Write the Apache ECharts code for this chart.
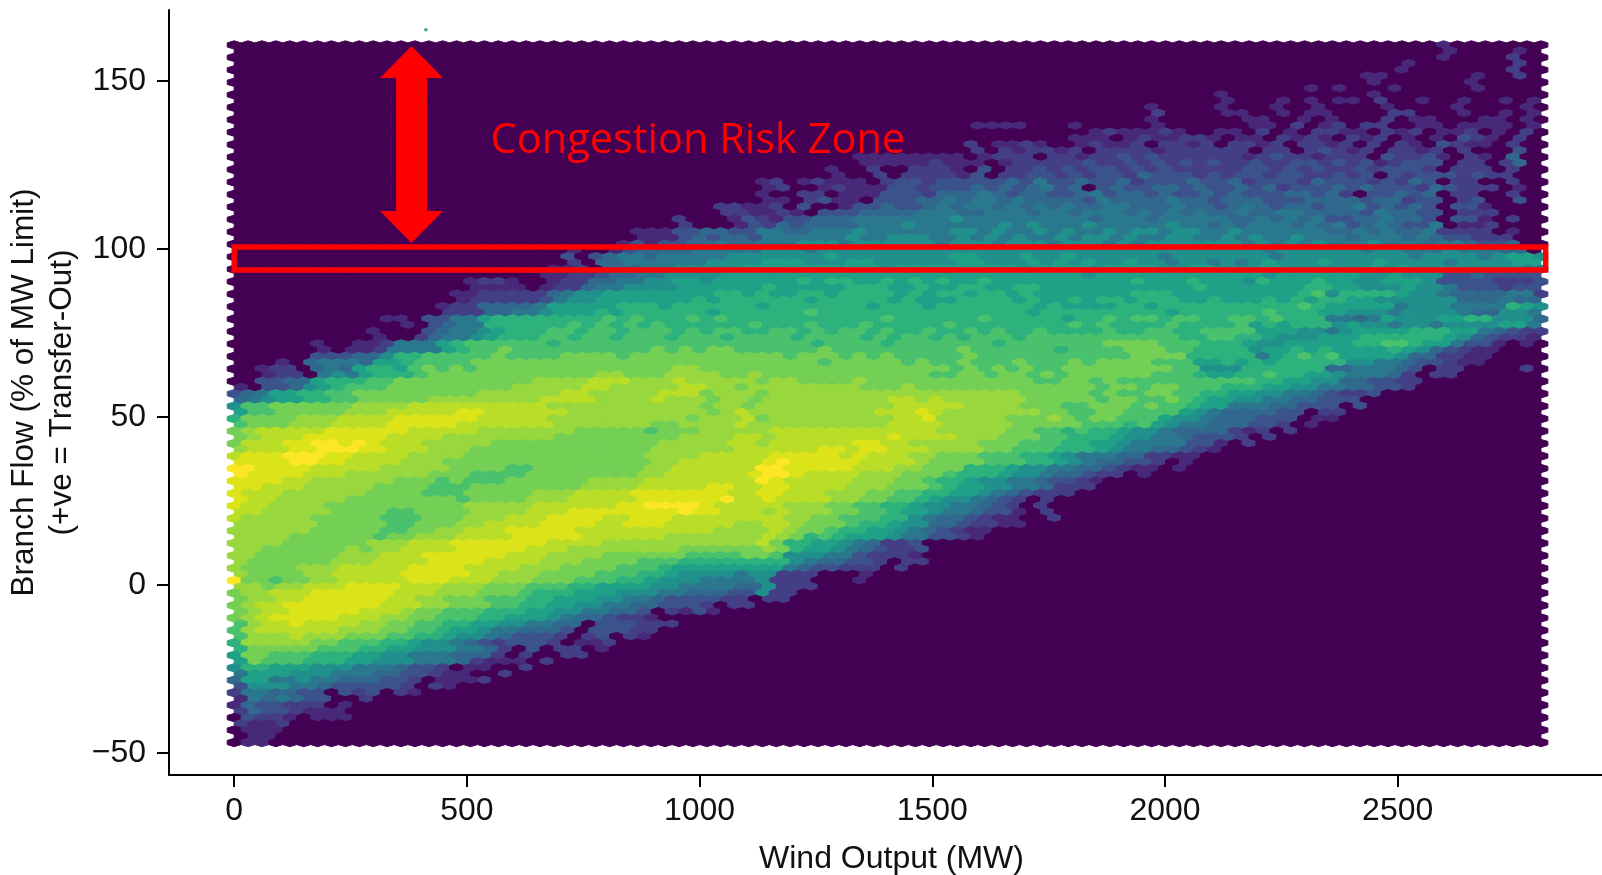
<!DOCTYPE html>
<html><head><meta charset="utf-8">
<style>html,body{margin:0;padding:0;background:#fff}#c{width:1602px;height:875px}#c canvas{filter:blur(0.7px)}</style>
<script src="https://cdn.jsdelivr.net/npm/echarts@6/dist/echarts.min.js"></script>
</head><body><div id="c"></div>
<script>
const xTicks = [0, 500, 1000, 1500, 2000, 2500];
const yTicks = [-50, 0, 50, 100, 150];
const viridis = ['#440154','#471365','#482878','#433e85','#3b528b','#31688e','#2a788e','#21908c','#1fa187','#2db27d','#4ac16d','#74d055','#98d83e','#bade28','#dce319','#fde725'];
// Hexbin density level per cell (hex digit, '.' = empty), one string per hexagon row, top to bottom.
const densityRows = [
".......... .......... .......... .......... .......... .......... .......... .......... .......2..",
".......... .......... .......... .......... .......... .......... .......... .......... .......2.. ..2",
".......... .......... .......... .......... .......... .......... .......... .......... .......2.. ..3",
".......... .......... .......... .......... .......... .......... .......... .......... ....2..... ..3",
".......... .......... .......... .......... .......... .......... .......... .......... ....2..... ..3",
".......... .......... .......... .......... .......... .......... .......... .......... .22......2 ..3",
".......... .......... .......... .......... .......... .......... .......... .......... ..2......2",
".......... .......... .......... .......... .......... .......... .......... .......2.2 ...2.....2",
".......... .......... .......... .......... .......... .......... .......... .2........ ..2.......",
".......... .......... .......... .......... .......... .......... .......... .2...2.2.2 2.3..2..2. .2.2",
".......... .......... .......... .......... .......... .......... ......2... .2...2..2. ...2....2. ...2",
".......... .......... .......... .......... .......... .......... ......3... .22..2.22. ...33...2. .2.2",
".......... .......... .......... .......... .......... .......... ......2... ...22..2.2 ...3.22... 22.2",
".......... .......... .......... .......... .......... ...2222... 2.....2... ...22.3.23 .33..22.22 22.2",
".......... .......... .......... .......... .......... .......... ..2322232. .22.3.2.33 22.323.223 .2.3",
".......... .......... .......... .......... .......... .......... 222.232233 2.22.3232. 323.2.2.43 2.3.",
".......... .......... .......... .......... .......... ...3.2232. .23223.332 3.3323.332 3.3.32.432 2.3..",
".......... .......... .......... .......... .......... ...3.32332 3.33332333 333.33.343 23.3323.3. ..4..",
".......... .......... .......... .......... .....22222 222.2333.3 3233434333 3332343323 33.43342.3 2.5..",
".......... .......... .......... .......... .....22222 3222.23333 3433434343 4334334434 3423444.33 .35",
".......... .......... .......... .......... ...2..3..3 332.4.3343 4344343433 3334434343 3434443.33 3.3",
".......... .......... .......... .......... ...2..3.33 3324.33443 4344354443 4344344334 34.4344434 33.",
".......... .......... .......... ........23 .23222.344 3444445464 4544534445 4453444354 4434354.33 ..3",
".......... .......... .......... ........23 ..23222443 4445454564 5.45445545 4454534445 4544435433 3.2",
".......... .......... .......... ........2. .33.222444 3555654554 4564554544 5454445545 3.44545.33 ..3",
".......... .......... .......... ........22 .3422.4445 5656656555 5465555655 4555444555 5455344.34 ..4",
".......... .......... .......... .....33223 .4..244544 5656656565 6556655565 5456545545 5645454.44 2..",
".......... .......... .......... .....33223 2.44455556 6655666566 5666565656 5565566555 5465544.33 3..",
".......... .......... .......... ..3...2432 4455566666 6676666666 6656665666 6655656564 4556554.44 2.3",
".......... .......... .......... ..3...2435 4555566676 6666676766 6766666766 5656665656 4565446.22 3.",
".......... .......... .........2 2244554466 5566676666 6677676676 7667677677 6676666665 5656556333 3.2",
".......... .......... .........2 2245455466 6666766777 6676767667 6776766776 6767667666 5666565443 33.",
".......... .......... ........24 2445565566 6777677777 7677767776 7776767777 7776767676 6676665665 445",
".......... .......... ....2..245 5556666677 7677777777 7777777777 7777777777 7777677777 7677666766 655",
".......... .......... ....4.4566 5666667777 7778777777 7788777877 8777777677 7777767777 7777767777 67887",
".......... .......... ....3.5566 6666777788 8777887777 7788777878 7877877677 6767877787 7787777677 77887",
".......... .......... ...223.555 6677777888 8888888788 8888888788 8878888778 8777887777 7787877777 77766",
".......... .......... ..22334556 6777788888 8888888888 8888888888 8788888888 8888788888 8778777445 44444",
".......... .......233 2..2335566 7788788888 8989988989 8988988888 8888898889 8887988898 8778887444 43334",
".......... .......222 2.23356677 7788888898 8888999889 8899889988 8888888889 8888888998 8777877644 4344.",
".......... ......2233 3335677888 8888899898 8998999989 8998998988 8888899988 88888889a7 9999877655 55663",
".......... ......2333 3346778888 8889899999 9899999898 8899998988 9899899988 9888989899 8877777755 5655.",
".......... .....23355 5568888899 9899999989 9999998999 8999999989 8888998999 9999999a98 8888677766 66987",
".......... .....33355 6678889899 9999899999 9a99999999 9999999899 9999999899 9999a99988 7776777765 57764",
".......... .22.446689 9999999a9a 999a9a9999 9999999a99 9999a99999 899a9aa9aa 99aa9a9996 6568777889 97775",
".......... ..2.456699 9999a9a9a9 a999999a99 9a999a9999 9a99999999 a9a9999a99 99a8989997 8776776777 78864",
".......... 2...456678 999aa9aa9a aa9a9aa99a a9a9aa9a99 a99a9a99a9 999a99aa99 aaaa888776 7888899988 65433",
".......... 2..3566789 99aa9aa9aa a9aaa9aaaa 9aaaa9a9aa 9a9aaa9aaa aaaaaaaa99 aa99877788 8999999875 43322",
"......2..2 2366689aaa aaa9aaaaaa aaaaaaaaaa aa9aaaa9aa aaaaa9aaaa aaabbbbaaa 9998778888 899aa98864 42.2.",
"......2.22 3666689aab aaaaaaaaaa bababbaaaa aabaaaaaaa aabaaaaaa9 aaaabbbaa9 9997889898 8889875432 2",
"......4445 5799aaaaab aaaabbbbab bbbbbbbbbb abbbababaa aaabaaaaaa aaaaabbbb9 9999689a9a 8888755332 2....",
"...2.56665 889aaaabbb bbbbbbbbbb bbbbbbbbbb bbabbbbbab aabaaabaaa babbbbaaa8 8989899999 7766544322",
"..233.5658 998abababb bbbbbbbbbb bbccbbbbbb bbbbbbbbbb bbabababaa bbbbbbbbaa 7779999995 566654.33. ...3.",
"..233.6768 999abbbbbb bbbbbbccbb bccccbbcbb bbbbbbbbbb aabbabbaba bbbbbbaaa9 8899a99887 66653.33",
"..44558999 aabbbbbbbb bbccccdddc ccdcccccbc cbbbbcbbbb bbbbbbbbaa bbabaaaaaa aaaa998877 554433",
"2.445789aa abbbbbbbbb cccccddccc ccddccbccc cccccbbbcb bbbbbbbbbb bbabbabbaa a999887766 55443",
"4568899aab bbbbbbbbcc ccccddcccc cdddbcccbc cccccccccc cccccccbbb bbabaabbaa 9988776654 334",
"5678899aab bbbbcccccc ccddddcccc dcccbccbcc cccccccddc dccccccbbb bbabbaaba9 8877665544 4",
"7aabbbbbbc cccddddddd dddccccccc ccccbccbcc ccccccccdd dddccccbbb aabbbabaa9 8866655444 .4",
"8aabbbbbcc cdddddeedd ddddcccccc ccccbcdccc ccccccddde dcccccccbb aabbaaaa87 6555544.33",
"9bbbbcccdd ddeeeeeedd dddccccccc cccbcccdbc ccccccccdd ecccccbbbc babbaaa877 6555444.22",
"abbbcccddd deeeeedddd dddccccccc bbccccdccc cccccccddd dcccccbbbb baaa9a8766 555443.2",
"bcdddddeee eeedddddcc cccccbbbbb abbbcccccd dddddddddd dcccccbbaa 9a99877655 55323.3",
"bcdddeeeee eddddccccc cccbbbbbbb bbccccddcd dddddddedd ddcccbbbaa 9998776654 443.3",
"bdddeeffef edddcccccb bbbbbbbbbb bcccccddcd dddddeeddc ccccbbbaaa 9988766664 42.3",
"cdddeefffe edddcccbbb bbbbbbbbbb ccccccdddd ddeedeeddd ccccbbaaa9 9987665543 2",
"deeefffeed dddccccbbb bbbbbbbbbb ccccddddde eeeededddc cbbbaaa998 7666553322",
"eeeeffeedd ddcccbbbbb bbbbbbbbbb ccddddddef eeeeeddddc bbbbaaa998 7655443.2.",
"ffeeeedddd dcccccbbbb aabbbbbbbb ccddddddff eeeeedddcc bbb9998776 6554322.2.",
"feeeedddcc ccccbbbaaa abbbbbbbbc cddddddeff eddddcccbb ba99987765 5433.2",
"eeeeddcccc ccbbbabaaa bbbbbbcccc ddddddddfe dddddcccbb a998776654 432",
"eedddccccc bbbbaaabbb bbbbbccccd ddddeeddee ddddcccbbb a988776653 33",
"edddcccccc bbbbaaabbb bbcccdddde eeeeeeddee dddcccbbaa 9988765433 3",
"eddcccccbb bbbbbbabbb bcccddddde eeeeefdded dddccbbaa9 8776543.3.",
"eddccccbbb bbbbbbbccc ccddddddee ffffeddddd cccbbaa998 7766543.3.",
"ddcccccbbb baabbbbccc cdddeeeeee eefeedddcd cccbbaa988 7665442.3.",
"dcccccbbbb baaabbbccc dddeeeedde eedddddddd ccbbaaa997 6554322..3",
"ccccccbbbb baabbbccdd ddeeeeddee edddddccdd cbbba99877 5543322..",
"ccccccbbbb baabbccddd eeeeeddddd dddddccccd cbba998876 54322",
"ccccbbbbbb abbcccdddd eeeeeddddd dcccccccdc b9a9888766 4432",
"ccccbbbbbb cccdddeeee eeeddddccc ccccccccdb 9988765334",
"ccbbbbbbcb ccddddeeee edddcccccc ccbbbbbbcb 9887654334",
"ccbbbbbbcc cdddeeeeee dddccccbbb bbbaaaabba 7776643332",
"cbbbbbbccc ddddeeeedd ddcccbbbba aa99999999 7655443.33",
"cbbbbcccdd dddeeeeddd dcccbbbbaa a988888888 6544333.3",
"cbbbbccddd ddeeeeeddc ccbbbbaaa9 9877776773 33...2",
"fbbabbccdd dddeeedddc ccbbbaaa99 8777666673 33...2",
"ccbccdddee eedddcccbb baaa998888 7766665573 33",
"bccdddeeee eedddcccbb ba99988877 7665554473 3",
"bccddeeeee eddccbbbaa a998887766 5444433.33",
"bcddeeeeee edddccbbba a998877665 54443.33..",
"bcddeeeeed ddcbbaaa99 9887766554 .3242",
"bcdeeeeedd dccbbaaa99 8887655433 2",
"acddeddddc cbbaa99887 76655.4443 33",
"acddddddcc cbbaa98876 65554.4443 3",
"acccdcccbb baa9987765 4443.34.32",
"9cccccbbaa a998776543 4443.223..",
"9bbbbbaaa9 9887776653 .4.33.2",
"8bbaaa9998 8776665553 .3..33",
"8baaa99988 7776665322 2.3",
"7998887776 665443.22. .3",
"6888777666 5544322..3",
"5886676655 5443.2223.",
"4777665444 443.32",
"3665544.43 4.32",
"2656544..3",
"2544333.2.",
"35443222",
".4332.222",
"3223",
".222",
".22",
".22"
];
const riskBand = [0, 2818, 93.75, 100.6];
const flowArrow = [381, 160.4, 101.8];
const labelAnchor = [551, 132];
const strayPoint = [[412, 165.2]];

const stepX = 29.87, stepY = 1.853, topY = 160.7;
const cells = [];
densityRows.forEach((s, j) => {
  const str = s.replace(/ /g, '');
  const n = j % 2 ? 94 : 95;
  for (let i = 0; i < n; i++) {
    const ch = str[i];
    const v = ch && ch !== '.' ? parseInt(ch, 16) : 0;
    cells.push([(i + (j % 2 ? 0.5 : 0)) * stepX, topY - j * stepY, v]);
  }
});
const chart = echarts.init(document.getElementById('c'), null, {renderer: 'canvas'});
const tickFont = {fontFamily: '"Liberation Sans", Arial, sans-serif', fontSize: 32, color: '#111'};
const minus = v => String(v).replace('-', '\u2212');
chart.setOption({
  animation: false,
  backgroundColor: '#fff',
  grid: {left: 169, right: 0, top: 10, bottom: 100, outerBoundsMode: 'none', containLabel: false},
  xAxis: {
    type: 'value', min: -140, max: 2939, splitLine: {show: false},
    name: 'Wind Output (MW)', nameLocation: 'middle', nameGap: 68,
    nameTextStyle: {...tickFont, padding: [0, 0, 0, 12]},
    axisLine: {show: true, lineStyle: {color: '#000', width: 2}, onZero: false},
    axisTick: {show: true, length: 12, lineStyle: {color: '#000', width: 2}, customValues: xTicks},
    axisLabel: {...tickFont, margin: 20, customValues: xTicks, formatter: minus, showMinLabel: true, showMaxLabel: true}
  },
  yAxis: {
    type: 'value', min: -56.5, max: 171.1, splitLine: {show: false},
    name: 'Branch Flow (% of MW Limit)\n(+ve = Transfer-Out)', nameLocation: 'middle', nameGap: 80,
    nameTextStyle: {...tickFont, fontSize: 31.5, lineHeight: 38, align: 'center'},
    axisLine: {show: true, lineStyle: {color: '#000', width: 2}, onZero: false},
    axisTick: {show: true, length: 12, lineStyle: {color: '#000', width: 2}, customValues: yTicks},
    axisLabel: {...tickFont, margin: 23, customValues: yTicks, formatter: minus}
  },
  visualMap: {show: false, seriesIndex: 0, dimension: 2, min: 0, max: 15, inRange: {color: viridis}},
  series: [
    {
      type: 'custom', name: 'density', coordinateSystem: 'cartesian2d', progressive: 0, silent: true,
      data: cells, encode: {x: 0, y: 1},
      renderItem(params, api) {
        const c = api.coord([api.value(0), api.value(1)]);
        const sz = api.size([stepX, stepY * 2]);
        const w = sz[0] / 2, h = sz[1];
        const col = api.visual('color');
        return {type: 'polygon', shape: {points: [
          [c[0] - w, c[1] - h / 6], [c[0], c[1] - h / 3], [c[0] + w, c[1] - h / 6],
          [c[0] + w, c[1] + h / 6], [c[0], c[1] + h / 3], [c[0] - w, c[1] + h / 6]
        ]}, style: {fill: col, stroke: col, lineWidth: 1}};
      }
    },
    {
      type: 'scatter', name: 'stray', data: strayPoint, symbolSize: 3.5, z: 5, silent: true,
      itemStyle: {color: '#109050'}
    },
    {
      type: 'custom', name: 'band', coordinateSystem: 'cartesian2d', silent: true, z: 6,
      data: [riskBand], encode: {x: [0, 1], y: [2, 3]},
      renderItem(params, api) {
        const a = api.coord([api.value(0), api.value(3)]);
        const b = api.coord([api.value(1), api.value(2)]);
        return {type: 'rect', shape: {x: a[0], y: a[1], width: b[0] - a[0], height: b[1] - a[1]},
          style: {fill: 'none', stroke: '#ff0000', lineWidth: 5.4}};
      }
    },
    {
      type: 'custom', name: 'arrow', coordinateSystem: 'cartesian2d', silent: true, z: 6,
      data: [flowArrow], encode: {x: 0, y: [1, 2]},
      renderItem(params, api) {
        const t = api.coord([api.value(0), api.value(1)]);
        const b = api.coord([api.value(0), api.value(2)]);
        const hw = 31.5, sw = 15.5, hl = 32;
        const x = t[0];
        return {type: 'polygon', shape: {points: [
          [x, t[1]], [x + hw, t[1] + hl], [x + sw, t[1] + hl], [x + sw, b[1] - hl], [x + hw, b[1] - hl],
          [x, b[1]], [x - hw, b[1] - hl], [x - sw, b[1] - hl], [x - sw, t[1] + hl], [x - hw, t[1] + hl]
        ]}, style: {fill: '#ff0000'}};
      }
    },
    {
      type: 'custom', name: 'label', coordinateSystem: 'cartesian2d', silent: true, z: 7,
      data: [labelAnchor], encode: {x: 0, y: 1},
      renderItem(params, api) {
        const p = api.coord([api.value(0), api.value(1)]);
        return {type: 'text', style: {x: p[0], y: p[1], text: 'Congestion Risk Zone', fill: '#ff0000',
          font: '41.5px "Open Sans", "Noto Sans", sans-serif', textAlign: 'left', textVerticalAlign: 'middle'}};
      }
    }
  ]
});
</script></body></html>
